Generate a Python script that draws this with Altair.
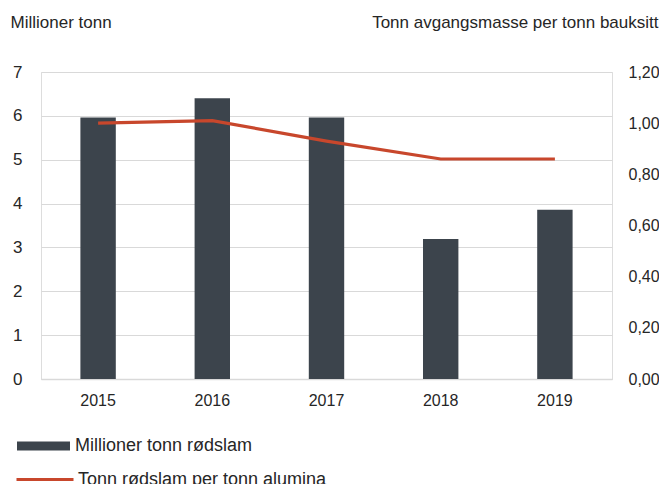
import altair as alt
import pandas as pd

years = ["2015", "2016", "2017", "2018", "2019"]
mill_tonn = [5.96, 6.40, 5.96, 3.19, 3.86]
tonn_per_tonn = [1.00, 1.01, 0.93, 0.86, 0.86]
bar_name = "Millioner tonn rødslam"
line_name = "Tonn rødslam per tonn alumina"

df = pd.DataFrame({
    "year": years,
    "mill": mill_tonn,
    "ratio": tonn_per_tonn,
    "bs": [bar_name] * len(years),
    "ls": [line_name] * len(years),
})

FONT = "Liberation Sans"
TXT = "#262626"
GRID = "#d9d9d9"

x = alt.X("year:N", title=None,
          scale=alt.Scale(paddingInner=0.69, paddingOuter=0.345),
          axis=alt.Axis(labelAngle=0, ticks=False, domain=True, domainColor=GRID,
                        domainWidth=1.5, labelPadding=13, labelFontSize=16,
                        labelColor=TXT, labelFont=FONT))

bars = alt.Chart(df).mark_bar(color="#3c444c").encode(
    x=x,
    y=alt.Y("mill:Q", title="Millioner tonn",
            scale=alt.Scale(domain=[0, 7], nice=False),
            axis=alt.Axis(values=[0, 1, 2, 3, 4, 5, 6, 7], ticks=False, domain=False,
                          grid=True, gridColor=GRID, gridWidth=1.2,
                          labelPadding=19, labelFontSize=17, labelColor=TXT, labelFont=FONT,
                          titleAngle=0, titleAlign="left", titleBaseline="alphabetic",
                          titleX=-31, titleY=-45, titleFontSize=17, titleFontWeight="normal",
                          titleColor=TXT, titleFont=FONT)),
    fill=alt.Fill("bs:N", title=None,
                  scale=alt.Scale(domain=[bar_name], range=["#3c444c"]),
                  legend=alt.Legend(orient="none", legendX=-24, legendY=347.5, padding=0,
                                    symbolType="M-1,-0.17L1,-0.17L1,0.17L-1,0.17Z",
                                    symbolSize=2809, symbolStrokeWidth=0, labelOffset=5,
                                    labelFontSize=18, labelColor=TXT, labelFont=FONT,
                                    labelLimit=400)),
)

line = alt.Chart(df).mark_line(color="#c8472c", strokeWidth=3.2).encode(
    x=x,
    y=alt.Y("ratio:Q", title="Tonn avgangsmasse per tonn bauksitt",
            scale=alt.Scale(domain=[0, 1.2], nice=False),
            axis=alt.Axis(orient="right", values=[0, 0.2, 0.4, 0.6, 0.8, 1.0, 1.2],
                          labelExpr="replace(format(datum.value, '.2f'), '.', ',')",
                          ticks=False, domain=False, grid=False,
                          labelPadding=16, labelFontSize=16, labelColor=TXT, labelFont=FONT,
                          titleAngle=0, titleAlign="right", titleBaseline="alphabetic",
                          titleX=46, titleY=-45, titleFontSize=17, titleFontWeight="normal",
                          titleColor=TXT, titleFont=FONT)),
    stroke=alt.Stroke("ls:N", title=None,
                      scale=alt.Scale(domain=[line_name], range=["#c8472c"]),
                      legend=alt.Legend(orient="none", legendX=-26, legendY=377.5, padding=0,
                                        symbolType="stroke", symbolSize=3249,
                                        symbolStrokeWidth=3, labelOffset=3,
                                        labelFontSize=18, labelColor=TXT, labelFont=FONT,
                                        labelLimit=400)),
)

chart = alt.layer(bars, line).resolve_scale(y="independent").properties(
    width=571, height=307,
    autosize=alt.AutoSizeParams(type="none"),
    padding={"left": 33, "top": 64, "right": 47, "bottom": 115},
).configure_view(stroke=None).configure(background="white")

chart.save("out.html", embed_options={"renderer": "svg", "actions": False})
